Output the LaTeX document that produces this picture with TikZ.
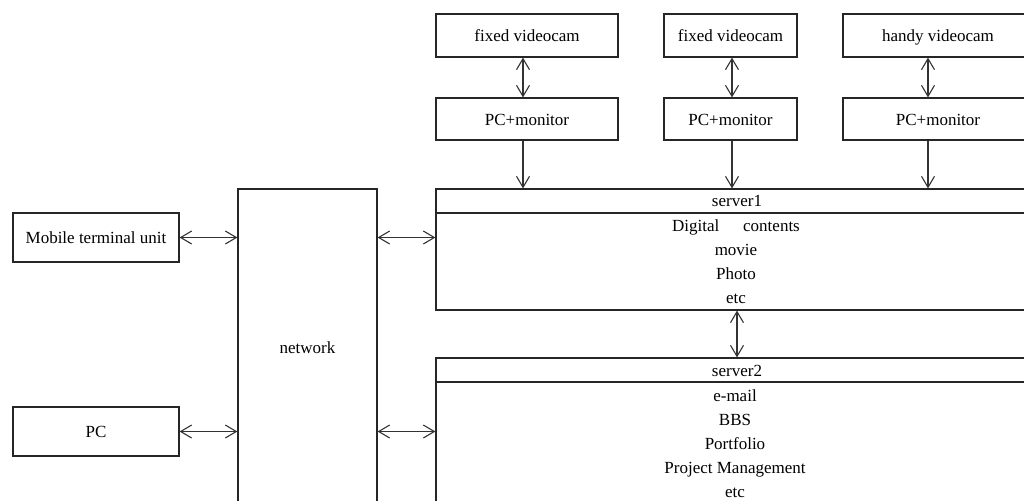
\documentclass[tikz,border=0pt]{standalone}
\usepackage{fontspec}
\setmainfont{Liberation Serif}
\usetikzlibrary{arrows.meta}
\begin{document}
\begin{tikzpicture}[x=0.5pt,y=-0.5pt,
  box/.style={draw=black!85, line width=0.6pt, inner sep=0pt, text height=6pt, text depth=0pt, font=\fontsize{8.5}{12}\selectfont},
  txt/.style={inner sep=0pt, align=center, font=\fontsize{8.5}{12}\selectfont},
  link/.style={draw=black!80, line width=0.55pt, arrows={Straight Barb[length=5.5pt,width=6.5pt]-Straight Barb[length=5.5pt,width=6.5pt]}},
  feed/.style={draw=black!80, line width=0.55pt, arrows={-Straight Barb[length=5.5pt,width=6.5pt]}}]
\useasboundingbox (0,0) rectangle (1024,500);
\clip (0,0) rectangle (1024,500);
\fill[white] (0,0) rectangle (1024,500);

% cameras
\node[box, minimum width=91pt, minimum height=21.5pt] (cam1) at (527,35.5) {fixed videocam};
\node[box, minimum width=66.5pt, minimum height=21.5pt] (cam2) at (730.5,35.5) {fixed videocam};
\node[box, minimum width=95pt, minimum height=21.5pt] (cam3) at (938,35.5) {handy videocam};

% workstations
\node[box, minimum width=91pt, minimum height=21pt] (pc1) at (527,119) {PC+monitor};
\node[box, minimum width=66.5pt, minimum height=21pt] (pc2) at (730.5,119) {PC+monitor};
\node[box, minimum width=95pt, minimum height=21pt] (pc3) at (938,119) {PC+monitor};

% servers
\node[box, minimum width=301pt, minimum height=12pt] (s1t) at (737,201) {};
\node[box, minimum width=301pt, minimum height=48.5pt] (s1b) at (737,261.5) {};
\node[txt] at (737,201) {server1};
\node[txt] at (736,262) {Digital\hspace{1.4em}contents\\movie\\Photo\\etc};

\node[box, minimum width=301pt, minimum height=12pt] (s2t) at (737,370) {};
\node[box, minimum width=301pt, minimum height=64pt] (s2b) at (737,446) {};
\node[txt] at (737,371) {server2};
\node[txt] at (735,444) {e-mail\\BBS\\Portfolio\\Project Management\\etc};

% network and clients
\node[box, minimum width=69.5pt, minimum height=158pt] (net) at (307.5,347) {network};
\node[box, minimum width=83pt, minimum height=24.5pt] (mob) at (96,237.5) {Mobile terminal unit};
\node[box, minimum width=83pt, minimum height=24.5pt] (pc) at (96,431.5) {PC};

% connector columns
\coordinate (c1) at (523,0);
\coordinate (c2) at (732,0);
\coordinate (c3) at (928,0);

\draw[link] (cam1.south -| c1) -- (pc1.north -| c1);
\draw[link] (cam2.south -| c2) -- (pc2.north -| c2);
\draw[link] (cam3.south -| c3) -- (pc3.north -| c3);
\draw[feed] (pc1.south -| c1) -- (s1t.north -| c1);
\draw[feed] (pc2.south -| c2) -- (s1t.north -| c2);
\draw[feed] (pc3.south -| c3) -- (s1t.north -| c3);

\draw[link] (mob.east) -- (net.west |- mob.east);
\draw[link] (pc.east) -- (net.west |- pc.east);
\draw[link] (net.east |- mob.east) -- (s1b.west |- mob.east);
\draw[link] (net.east |- pc.east) -- (s2b.west |- pc.east);
\draw[link] (s1b.south) -- (s2t.north);
\end{tikzpicture}
\end{document}
